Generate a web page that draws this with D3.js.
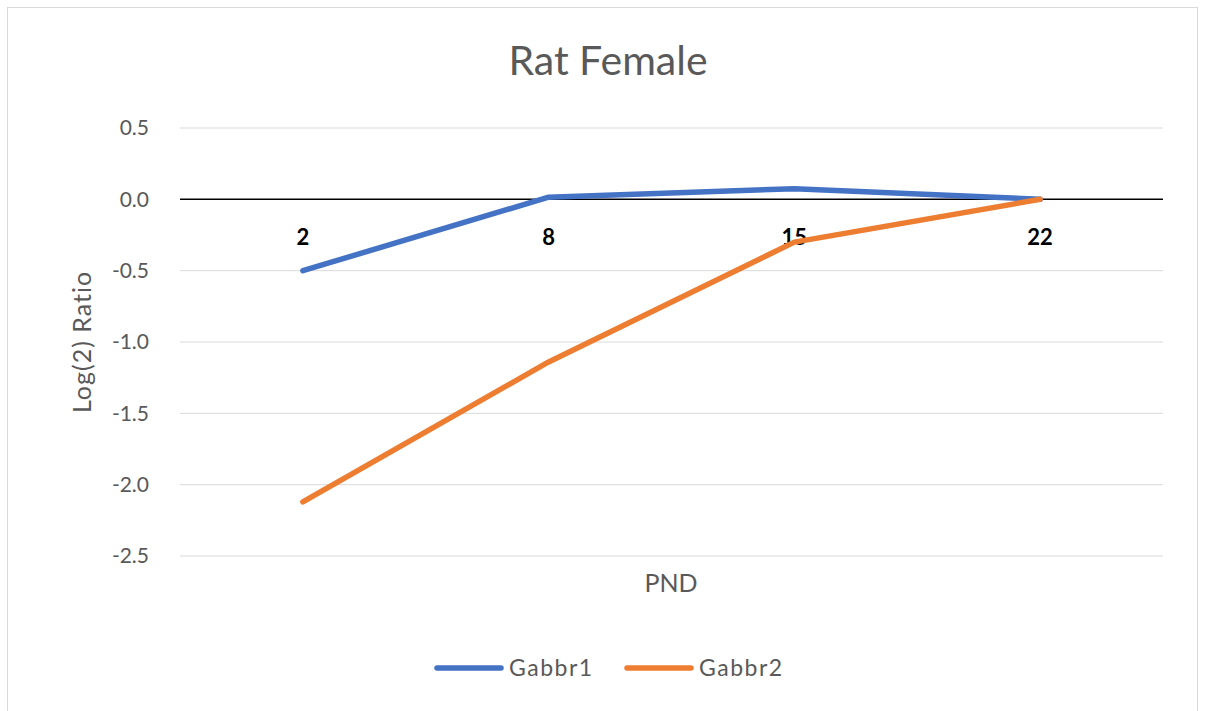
<!doctype html>
<html>
<head>
<meta charset="utf-8">
<style>
  body { margin: 0; background: #fff; }
  text { font-family: Lato, "Open Sans", sans-serif; }
</style>
<script src="https://d3js.org/d3.v7.min.js"></script>
</head>
<body>
<svg width="1205" height="711"></svg>
<script>
var categories = ["2", "8", "15", "22"];
var gabbr1 = [-0.5, 0.015, 0.075, 0.0];
var gabbr2 = [-2.12, -1.14, -0.3, 0.0];
var yTicks = [0.5, 0.0, -0.5, -1.0, -1.5, -2.0, -2.5];
var seriesNames = ["Gabbr1", "Gabbr2"];
var colors = ["#4472C4", "#ED7D31"];

var svg = d3.select("svg");

// chart border
svg.append("rect")
   .attr("x", 7.5).attr("y", 7.5)
   .attr("width", 1190).attr("height", 720)
   .attr("fill", "#fff").attr("stroke", "#d9d9d9");

var plotLeft = 180, plotRight = 1163, plotTop = 128, plotBottom = 556;

var x = d3.scaleBand().domain(categories).range([plotLeft, plotRight]);
var y = d3.scaleLinear().domain([-2.5, 0.5]).range([plotBottom, plotTop]);

// gridlines
svg.append("g")
   .selectAll("line")
   .data(yTicks.filter(function(d) { return d !== 0; }))
   .enter().append("line")
   .attr("x1", plotLeft).attr("x2", plotRight)
   .attr("y1", function(d) { return y(d); })
   .attr("y2", function(d) { return y(d); })
   .attr("stroke", "#d9d9d9").attr("stroke-width", 1);

// y axis labels (plain hyphen like the original)
var fmt = function(d) { return d3.format(".1f")(d).replace("\u2212", "-"); };
var yAxis = svg.append("g")
   .attr("transform", "translate(" + (plotLeft - 28) + ",0)")
   .call(d3.axisLeft(y).tickValues(yTicks).tickFormat(fmt).tickSize(0));
yAxis.select(".domain").remove();
yAxis.selectAll("text")
   .attr("font-family", "Lato, sans-serif")
   .attr("font-size", 21)
   .attr("fill", "#595959")
   .attr("text-anchor", "end");

// zero line (category axis)
svg.append("line")
   .attr("x1", plotLeft).attr("x2", plotRight)
   .attr("y1", y(0)).attr("y2", y(0))
   .attr("stroke", "#000").attr("stroke-width", 1.5);

var xAxis = svg.append("g")
   .attr("transform", "translate(0," + y(0) + ")")
   .call(d3.axisBottom(x).tickSize(0).tickPadding(30));
xAxis.select(".domain").remove();
xAxis.selectAll("text")
   .attr("font-family", "Lato, sans-serif")
   .attr("font-size", 22)
   .attr("font-weight", "bold")
   .attr("fill", "#000");

// lines
var line = d3.line()
   .x(function(d, i) { return x(categories[i]) + x.bandwidth() / 2; })
   .y(function(d) { return y(d); });

[gabbr1, gabbr2].forEach(function(s, i) {
  svg.append("path")
     .datum(s)
     .attr("d", line)
     .attr("fill", "none")
     .attr("stroke", colors[i])
     .attr("stroke-width", 5.5)
     .attr("stroke-linecap", "round")
     .attr("stroke-linejoin", "round");
});

// title
svg.append("text")
   .attr("x", 608).attr("y", 75)
   .attr("text-anchor", "middle")
   .attr("font-size", 41)
   .attr("fill", "#595959")
   .text("Rat Female");

// axis titles
svg.append("text")
   .attr("transform", "translate(91,342) rotate(-90)")
   .attr("text-anchor", "middle")
   .attr("font-size", 25)
   .attr("letter-spacing", 1)
   .attr("fill", "#595959")
   .text("Log(2) Ratio");

svg.append("text")
   .attr("x", 671).attr("y", 592)
   .attr("text-anchor", "middle")
   .attr("font-size", 25)
   .attr("fill", "#595959")
   .text("PND");

// legend
var legendX = [437, 627];
seriesNames.forEach(function(name, i) {
  var g = svg.append("g").attr("transform", "translate(" + legendX[i] + ",668)");
  g.append("line")
   .attr("x1", 0).attr("x2", 64)
   .attr("stroke", colors[i]).attr("stroke-width", 5.5)
   .attr("stroke-linecap", "round");
  g.append("text")
   .attr("x", 72).attr("y", 8)
   .attr("font-size", 23)
   .attr("letter-spacing", 1.5)
   .attr("fill", "#595959")
   .text(name);
});
</script>
</body>
</html>
